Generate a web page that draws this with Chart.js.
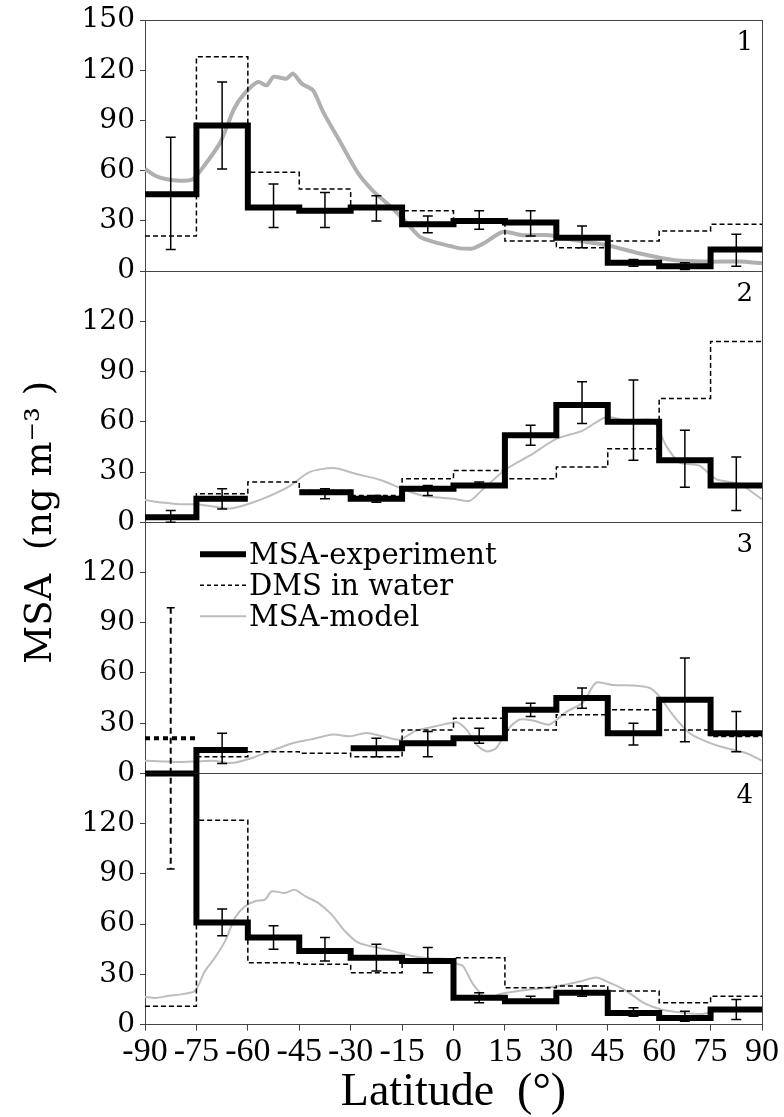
<!DOCTYPE html>
<html lang="en">
<head>
<meta charset="UTF-8">
<title>MSA vs latitude</title>
<style>
    body {
        margin: 0;
        background-color: #fff;
    }
    .chart-container {
        position: relative;
        width: 784px;
        height: 1117px;
    }
</style>
<script src="https://cdn.jsdelivr.net/npm/chart.js"></script>
</head>
<body>
<div class="chart-container">
    <canvas id="msaChart"></canvas>
</div>

<script>
    // Latitude bins (15 degree wide) and their centres
    const binEdges = [-90, -75, -60, -45, -30, -15, 0, 15, 30, 45, 60, 75, 90];
    const binCenters = [-82.5, -67.5, -52.5, -37.5, -22.5, -7.5, 7.5, 22.5, 37.5, 52.5, 67.5, 82.5];
    const latTicks = [-90, -75, -60, -45, -30, -15, 0, 15, 30, 45, 60, 75, 90];

    // Panel 1
    const exp1 = [46, 87, 38, 36, 38, 28, 30, 29, 20, 5, 3, 13];
    const errLo1 = [13, 61, 26, 26, 30, 23, 25, 21, 14, 3, 1, 3];
    const errHi1 = [80, 113, 52, 47, 45, 33, 36, 36, 27, 7, 5, 22];
    const dms1 = [21, 128, 59, 49, 39, 36, 30, 18, 14, 18, 24, 28];
    const modelLat1 = [-90, -87, -84, -80, -76, -72, -68, -64, -61, -57, -54.5, -52.5, -48.7, -46.8, -44.3, -41, -38, -33, -28, -23.5, -18.6, -13.7, -9.8, -5, -1, 2, 5.7, 9.6, 14.5, 20, 28, 35, 44.5, 54, 64, 74, 83.5, 90];
    const model1 = [61, 57, 55, 54, 55, 65, 77, 97, 106, 113, 111, 116, 115, 118, 112, 108, 95, 77, 59, 48, 39, 29, 20.5, 17, 15, 13.6, 13.6, 17.6, 23.5, 21.5, 21.5, 18.6, 15.6, 10.7, 6.7, 5.7, 5.7, 4.7];

    // Panel 2
    const exp2 = [3, 14, null, 18, 14, 20, 22, 52, 70, 60, 37, 22];
    const errLo2 = [0, 8, null, 14, 12, 16, 21, 46, 59, 37, 21, 7];
    const errHi2 = [7, 20, null, 20, 16, 22, 24, 58, 84, 85, 55, 39];
    const dms2 = [2, 17, 24, 19, 16, 26, 31, 26, 33, 44, 74, 108];
    const modelLat2 = [-90, -85, -80, -75, -70, -65, -59.4, -53.6, -47.7, -42, -35, -28.3, -21.5, -14.7, -9, -4, 0, 4.7, 8.6, 15.4, 22.2, 30, 37.7, 44.5, 50.4, 58.2, 62, 65.9, 71.7, 76.6, 83.5, 90];
    const model2 = [13.4, 11.8, 10.8, 10.8, 9.4, 8.2, 11.2, 15.8, 21.8, 30, 32.4, 28.8, 25.4, 19.8, 15.8, 14.8, 14, 12.8, 19.8, 31.8, 39.8, 49.8, 54.8, 62.8, 60.8, 60.8, 45.8, 35.8, 33.8, 25.8, 22.8, 13.8];

    // Panel 3
    const exp3 = [0, 14, null, null, 15, 18, 21, 38, 45, 24, 44, 24];
    const errLo3 = [null, 6, null, null, 10, 10, 18, 34, 39, 17, 19, 13];
    const errHi3 = [null, 24, null, null, 21, 25, 27, 42, 51, 30, 69, 37];
    const dms3 = [null, 10, 13, 12, 10, 26, 33, 26, 35, 38, 26, 22];
    const dms3Outlier = [21, null, null, null, null, null, null, null, null, null, null, null];
    // its error bar runs down past the zero line into panel 4
    const dms3OutlierLo = -57;
    const dms3OutlierHi = 99;
    const modelLat3 = [-90, -85, -80, -75, -70, -65, -59.4, -53.6, -47.7, -42, -35, -30.3, -25.4, -20.6, -15.7, -10.9, -5.1, 0.9, 3.8, 6.7, 9.6, 12.5, 15.4, 19.3, 23.2, 28, 32.9, 37.7, 41.6, 46.4, 52.3, 57.1, 60, 63.9, 68.8, 73.6, 79.4, 85.3, 90];
    const model3 = [7.6, 7.2, 6.8, 7.2, 7.6, 6.2, 8.8, 13.2, 17.6, 20.2, 23.2, 22.2, 24.2, 22.2, 20.2, 25.6, 28.2, 30.6, 26.2, 17.2, 13.2, 15.2, 25.2, 32.2, 31.6, 29.2, 36.8, 42.2, 54.2, 52.8, 52.6, 51.2, 46.2, 35.2, 24.2, 19.2, 15.2, 12.2, 7.6];

    // Panel 4
    const exp4 = [150, 61, 52, 44, 40, 38, 16, 14, 19, 7, 4, 9];
    const errLo4 = [null, 53, 45, 38, 32, 31, 13, 14, 17, 5, 2, 3];
    const errHi4 = [null, 69, 59, 52, 48, 46, 19, 17, 23, 10, 8, 15];
    const dms4 = [11, 122, 37, 36, 31, 38, 40, 22, 23, 20, 13, 17];
    const modelLat4 = [-90, -87, -83, -79, -75.4, -72.5, -69.6, -66.6, -63.7, -60.8, -57.9, -55, -53, -49.2, -46.3, -43.3, -39.5, -35.6, -31.7, -27.8, -22.9, -17.1, -12.2, -7.4, -1.5, 1.4, 2.8, 5.7, 9.6, 13.5, 19.3, 25.1, 31, 36.8, 41.6, 45.5, 50.4, 55.2, 60.1, 65.9, 72.7, 77.5, 83.3, 90];
    const model4 = [16.6, 15.9, 17.2, 18.2, 20.2, 32, 40, 50, 64, 70.7, 73.7, 74.7, 79.6, 78.6, 80.6, 76.7, 72.7, 65.8, 55.9, 48.9, 46.3, 43.6, 41, 39.6, 39, 36, 35, 24.2, 15.9, 18.2, 20.2, 21.6, 23.2, 25.7, 28.1, 25.1, 20.2, 13.3, 9.3, 7.3, 6.4, 8.7, 9.3, 8.3];

    const legendLabels = ['MSA-experiment', 'DMS in water', 'MSA-model'];

    const serifWide = '"DejaVu Serif", serif';
    const serifNarrow = '"Liberation Serif", serif';

    // Turn bin values into a step line (gap where a bin has no value)
    function stepPoints(values) {
        const pts = [];
        values.forEach((v, i) => {
            if (v === null) {
                pts.push({ x: (binEdges[i] + binEdges[i + 1]) / 2, y: null });
                return;
            }
            pts.push({ x: binEdges[i], y: v });
            pts.push({ x: binEdges[i + 1], y: v });
        });
        return pts;
    }

    function curvePoints(lats, values) {
        return lats.map((x, i) => ({ x: x, y: values[i] }));
    }

    const panels = [
        { axis: 'p1', exp: exp1, lo: errLo1, hi: errHi1, dms: dms1, lat: modelLat1, model: model1, modelWidth: 4, modelColor: '#b0b0b0' },
        { axis: 'p2', exp: exp2, lo: errLo2, hi: errHi2, dms: dms2, lat: modelLat2, model: model2, modelWidth: 2, modelColor: '#bdbdbd' },
        { axis: 'p3', exp: exp3, lo: errLo3, hi: errHi3, dms: dms3, lat: modelLat3, model: model3, modelWidth: 2, modelColor: '#bdbdbd' },
        { axis: 'p4', exp: exp4, lo: errLo4, hi: errHi4, dms: dms4, lat: modelLat4, model: model4, modelWidth: 2, modelColor: '#bdbdbd' }
    ];

    const datasets = [];
    panels.forEach(p => {
        datasets.push({
            label: 'MSA-experiment',
            data: stepPoints(p.exp),
            yAxisID: p.axis,
            borderColor: '#000',
            borderWidth: 6,
            borderJoinStyle: 'miter',
            pointRadius: 0,
            tension: 0
        });
        datasets.push({
            label: 'DMS in water',
            data: stepPoints(p.dms),
            yAxisID: p.axis,
            borderColor: '#000',
            borderWidth: 1.5,
            borderDash: [5, 3],
            pointRadius: 0,
            tension: 0
        });
    });
    datasets.push({
        label: 'DMS in water (outlier)',
        data: stepPoints(dms3Outlier),
        yAxisID: 'p3',
        borderColor: '#000',
        borderWidth: 4,
        borderDash: [5, 4],
        pointRadius: 0,
        tension: 0
    });
    panels.forEach(p => {
        datasets.push({
            label: 'MSA-model',
            data: curvePoints(p.lat, p.model),
            yAxisID: p.axis,
            borderColor: p.modelColor,
            borderWidth: p.modelWidth,
            pointRadius: 0,
            tension: 0.25
        });
    });

    // One y axis per panel, stacked on the left
    function panelAxis(showTop) {
        return {
            type: 'linear',
            position: 'left',
            stack: 'panels',
            stackWeight: 1,
            min: 0,
            max: 150,
            border: { display: true, color: '#444', width: 1 },
            grid: {
                color: c => (c.tick && (c.tick.value === 0 || c.tick.value === 150)) ? '#444' : 'rgba(0,0,0,0)',
                tickColor: '#444',
                tickLength: 5
            },
            ticks: {
                stepSize: 30,
                autoSkip: false,
                padding: 5,
                color: '#000',
                font: { family: serifWide, size: 28, lineHeight: 1 },
                callback: v => (!showTop && v === 150) ? '' : String(v)
            },
            afterFit: s => { s.width = 83; }
        };
    }

    // Error bars, panel numbers and legend
    const decor = {
        id: 'decor',
        afterDatasetsDraw(chart) {
            const ctx = chart.ctx;
            const xs = chart.scales.x;

            panels.forEach((p, n) => {
                const ys = chart.scales[p.axis];
                ctx.save();
                ctx.beginPath();
                ctx.rect(xs.left, ys.top - 1, xs.width, ys.height + 2);
                ctx.clip();
                ctx.strokeStyle = '#000';
                ctx.lineWidth = 1.5;
                binCenters.forEach((c, i) => {
                    if (p.lo[i] === null) return;
                    const px = xs.getPixelForValue(c);
                    const top = ys.getPixelForValue(p.hi[i]);
                    const bot = ys.getPixelForValue(p.lo[i]);
                    ctx.beginPath();
                    ctx.moveTo(px, top);
                    ctx.lineTo(px, bot);
                    ctx.moveTo(px - 5, top);
                    ctx.lineTo(px + 5, top);
                    ctx.moveTo(px - 5, bot);
                    ctx.lineTo(px + 5, bot);
                    ctx.stroke();
                });
                ctx.restore();

                // panel number
                ctx.save();
                ctx.fillStyle = '#000';
                ctx.font = '26px ' + serifWide;
                ctx.textAlign = 'right';
                ctx.textBaseline = 'top';
                ctx.fillText(String(n + 1), xs.right - 9, ys.top + 10);
                ctx.restore();
            });

            // dashed DMS error bar of the first bin in panel 3
            const y3 = chart.scales.p3;
            const ex = xs.getPixelForValue(binCenters[0]);
            const eTop = y3.getPixelForValue(dms3OutlierHi);
            const eBot = y3.getPixelForValue(dms3OutlierLo);
            ctx.save();
            ctx.strokeStyle = '#000';
            ctx.lineWidth = 2;
            ctx.setLineDash([6, 4]);
            ctx.beginPath();
            ctx.moveTo(ex, eTop);
            ctx.lineTo(ex, eBot);
            ctx.stroke();
            ctx.setLineDash([]);
            ctx.lineWidth = 1.5;
            ctx.beginPath();
            ctx.moveTo(ex - 4, eTop);
            ctx.lineTo(ex + 4, eTop);
            ctx.moveTo(ex - 4, eBot);
            ctx.lineTo(ex + 4, eBot);
            ctx.stroke();
            ctx.restore();

            // legend inside panel 3
            const lx = xs.left + 55;
            const ly = y3.top + 32;
            const styles = [
                { w: 6, dash: [], color: '#000' },
                { w: 1.5, dash: [4, 3], color: '#000' },
                { w: 2, dash: [], color: '#bdbdbd' }
            ];
            ctx.save();
            ctx.font = '29px ' + serifWide;
            ctx.textBaseline = 'middle';
            ctx.fillStyle = '#000';
            legendLabels.forEach((txt, i) => {
                const yy = ly + i * 31;
                ctx.strokeStyle = styles[i].color;
                ctx.lineWidth = styles[i].w;
                ctx.setLineDash(styles[i].dash);
                ctx.beginPath();
                ctx.moveTo(lx, yy);
                ctx.lineTo(lx + 46, yy);
                ctx.stroke();
                ctx.fillText(txt, lx + 49, yy + 2);
            });
            ctx.restore();
        }
    };

    const config = {
        type: 'line',
        data: { datasets: datasets },
        options: {
            responsive: true,
            maintainAspectRatio: false,
            animation: false,
            layout: { padding: { left: 20, right: 22, top: 20, bottom: 0 } },
            plugins: {
                legend: { display: false },
                tooltip: { enabled: false },
                title: {
                    display: true,
                    position: 'left',
                    fullSize: false,
                    text: 'MSA  (ng m\u207B\u00B3 )',
                    color: '#000',
                    font: { family: serifWide, size: 37, weight: 'normal', lineHeight: 1 },
                    padding: { top: 3, bottom: 2 },
                    align: 'center'
                }
            },
            scales: {
                x: {
                    type: 'linear',
                    min: -90,
                    max: 90,
                    border: { color: '#444' },
                    grid: {
                        color: c => (c.tick && c.tick.value === 90) ? '#444' : 'rgba(0,0,0,0)',
                        tickColor: '#444',
                        tickLength: 6
                    },
                    afterBuildTicks: s => { s.ticks = latTicks.map(v => ({ value: v })); },
                    ticks: {
                        autoSkip: false,
                        maxRotation: 0,
                        padding: 4,
                        color: '#000',
                        font: { family: serifNarrow, size: 34, lineHeight: 1 },
                        callback: v => String(v)
                    },
                    title: {
                        display: true,
                        text: 'Latitude  (\u00B0)',
                        color: '#000',
                        font: { family: serifNarrow, size: 46, lineHeight: 0.9 },
                        padding: { top: 0, bottom: 3 }
                    }
                },
                p4: panelAxis(false),
                p3: panelAxis(false),
                p2: panelAxis(false),
                p1: panelAxis(true)
            }
        },
        plugins: [decor]
    };

    const ctxMsa = document.getElementById('msaChart').getContext('2d');
    new Chart(ctxMsa, config);
</script>
</body>
</html>
